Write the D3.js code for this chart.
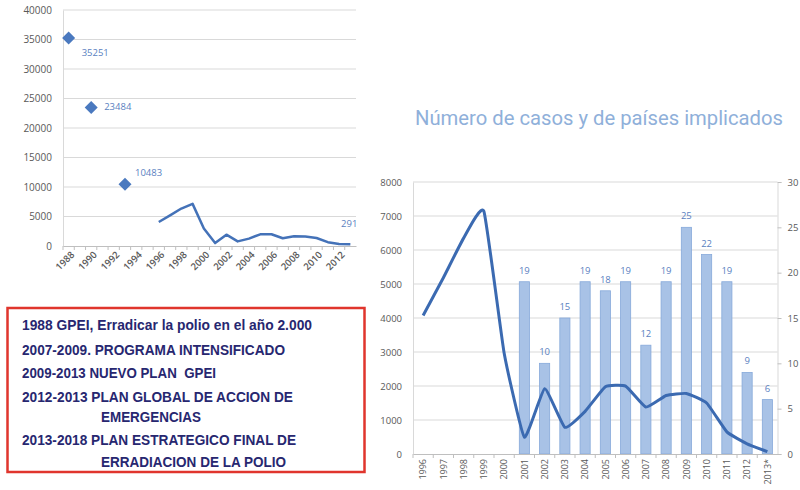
<!DOCTYPE html>
<html><head><meta charset="utf-8">
<script src="https://cdn.jsdelivr.net/npm/d3@7/dist/d3.min.js"></script>
<style>body{margin:0;background:#fff} svg{display:block}</style>
</head><body>
<svg id="c" width="800" height="490"></svg>
<script>
// ---------- DATA ----------
// Left chart (cases of polio, 1988-2013)
const leftYears = ["1988","1989","1990","1991","1992","1993","1994","1995","1996","1997","1998","1999","2000","2001","2002","2003","2004","2005","2006","2007","2008","2009","2010","2011","2012","2013"];
const leftTickLabels = ["1988","1990","1992","1994","1996","1998","2000","2002","2004","2006","2008","2010","2012"];
const leftYTicks = [0,5000,10000,15000,20000,25000,30000,35000,40000];
const earlyYears = ["1988","1990","1993"];
const earlyCases = [35251, 23484, 10483];
const lineYears = ["1996","1997","1998","1999","2000","2001","2002","2003","2004","2005","2006","2007","2008","2009","2010","2011","2012","2013"];
const casesLeft = [4074, 5186, 6349, 7141, 2971, 498, 1918, 784, 1255, 1979, 1997, 1315, 1651, 1604, 1352, 650, 350, 291];

// Right chart (cases and number of countries)
const rightCategories = ["1996","1997","1998","1999","2000","2001","2002","2003","2004","2005","2006","2007","2008","2009","2010","2011","2012","2013*"];
const casesRight = [4074, 5186, 6349, 7141, 2971, 498, 1918, 784, 1255, 1979, 1997, 1380, 1720, 1780, 1500, 650, 300, 70];
const countries = [null, null, null, null, null, 19, 10, 15, 19, 18, 19, 12, 19, 25, 22, 19, 9, 6];
const rightYTicks = [0,1000,2000,3000,4000,5000,6000,7000,8000];
const rightY2Ticks = [0,5,10,15,20,25,30];
const chartTitle = "Número de casos y de países implicados";

const milestones = [
  {text:"1988 GPEI, Erradicar la polio en el año 2.000", indent:false},
  {text:"2007-2009. PROGRAMA INTENSIFICADO", indent:false},
  {text:"2009-2013 NUEVO PLAN  GPEI", indent:false},
  {text:"2012-2013 PLAN GLOBAL DE ACCION DE", indent:false},
  {text:"EMERGENCIAS", indent:true},
  {text:"2013-2018 PLAN ESTRATEGICO FINAL DE", indent:false},
  {text:"ERRADIACION DE LA POLIO", indent:true}
];

// ---------- DRAW ----------
const svg = d3.select("#c");
const FONT = "'Open Sans', 'Liberation Sans', sans-serif";
const GRID = "#d9d9d9", TICKC = "#595959", LINEC = "#4472b8";
const plain = d => String(d);

// ===== Left chart =====
const lx = d3.scaleBand().domain(leftYears).range([63, 356]);
const ly = d3.scaleLinear().domain([0, 40000]).range([246, 10]);
const L = svg.append("g");

L.append("g").selectAll("line").data(leftYTicks.filter(d=>d>0)).join("line")
  .attr("x1", 63).attr("x2", 356).attr("y1", d=>ly(d)).attr("y2", d=>ly(d))
  .attr("stroke", GRID).attr("stroke-width", 1);

const lyAxis = L.append("g").attr("transform","translate(63,0)")
  .call(d3.axisLeft(ly).tickValues(leftYTicks).tickFormat(plain).tickSize(0).tickPadding(11));
lyAxis.select(".domain").attr("stroke", GRID);
lyAxis.selectAll("text").attr("font-family", FONT).attr("font-size", 10).attr("fill", TICKC);

const lxAxis = L.append("g").attr("transform","translate(0,246)")
  .call(d3.axisBottom(lx).tickValues(leftTickLabels).tickSize(0).tickPadding(0));
lxAxis.select(".domain").attr("stroke", "#bfbfbf");
lxAxis.selectAll("text").attr("font-family", FONT).attr("font-size", 9.5).attr("font-weight", 600)
  .attr("fill", TICKC).attr("text-anchor","end")
  .attr("transform","translate(4,7) rotate(-45)").attr("dy","0.35em");
L.append("g").selectAll("line").data(leftYears).join("line")
  .attr("x1", d=>lx(d)).attr("x2", d=>lx(d)).attr("y1", 246).attr("y2", 250)
  .attr("stroke", "#bfbfbf");

const lcx = d => lx(d) + lx.bandwidth()/2;
L.append("path").datum(lineYears.map((y,i)=>[y, casesLeft[i]]))
  .attr("fill","none").attr("stroke", LINEC).attr("stroke-width", 2.5).attr("stroke-linejoin","round")
  .attr("d", d3.line().x(d=>lcx(d[0])).y(d=>ly(d[1])));

L.append("g").selectAll("path").data(earlyYears.map((y,i)=>[y, earlyCases[i]])).join("path")
  .attr("d","M0,-6.5L6.5,0L0,6.5L-6.5,0Z")
  .attr("transform", d=>`translate(${lcx(d[0])},${ly(d[1])})`)
  .attr("fill", "#4a79bf");

const lblOff = [[13, 18], [13, 3], [10, -8]];
L.append("g").selectAll("text").data(earlyYears.map((y,i)=>[y, earlyCases[i]])).join("text")
  .attr("x", (d,i)=>lcx(d[0]) + lblOff[i][0]).attr("y", (d,i)=>ly(d[1]) + lblOff[i][1])
  .attr("font-family", FONT).attr("font-size", 9.5).attr("fill", "#5a7fbf")
  .text(d=>d[1]);
L.append("text").attr("x", lcx(lineYears[lineYears.length-1]) + 7).attr("y", ly(casesLeft[casesLeft.length-1]) - 17)
  .attr("text-anchor","end").attr("font-family", FONT).attr("font-size", 9.5).attr("fill", "#5a7fbf")
  .text(casesLeft[casesLeft.length-1]);

// ===== Milestones box =====
svg.append("rect").attr("x", 7.5).attr("y", 308).attr("width", 357).attr("height", 164)
  .attr("fill","#fff").attr("stroke", "#e0352d").attr("stroke-width", 2.5);
const baselines = [330, 355, 378, 402, 422, 445, 467];
const widths = [290, 263, 194, 271, 100, 274, 185];
svg.append("g").selectAll("text").data(milestones).join("text")
  .attr("x", d=>d.indent ? 101 : 22).attr("y", (d,i)=>baselines[i])
  .attr("font-family", "'Liberation Sans Narrow', 'Arial Narrow', 'Liberation Sans', sans-serif")
  .attr("font-weight", "bold").attr("font-size", 14.5).attr("fill", "#272770")
  .attr("textLength", (d,i)=>widths[i]).attr("lengthAdjust","spacingAndGlyphs")
  .style("white-space","pre")
  .text(d=>d.text);

// ===== Right chart =====
const R = svg.append("g");
R.append("text").attr("x", 415).attr("y", 125)
  .attr("font-family", "Roboto, 'Open Sans', sans-serif").attr("font-size", 20)
  .attr("fill", "#8fb0da").attr("textLength", 368).attr("lengthAdjust","spacingAndGlyphs")
  .text(chartTitle);

const rx = d3.scaleBand().domain(rightCategories).range([413, 777.5]);
const ry = d3.scaleLinear().domain([0, 8000]).range([454, 182]);
const ry2 = d3.scaleLinear().domain([0, 30]).range([454, 182]);

R.append("g").selectAll("line").data(rightYTicks.filter(d=>d>0)).join("line")
  .attr("x1", 413).attr("x2", 777.5).attr("y1", d=>ry(d)).attr("y2", d=>ry(d))
  .attr("stroke", GRID).attr("stroke-width", 1);

const ryAxis = R.append("g").attr("transform","translate(413,0)")
  .call(d3.axisLeft(ry).tickValues(rightYTicks).tickFormat(plain).tickSize(0).tickPadding(11));
ryAxis.select(".domain").attr("stroke", GRID);
ryAxis.selectAll("text").attr("font-family", FONT).attr("font-size", 9.5).attr("fill", TICKC);

const ry2Axis = R.append("g").attr("transform","translate(777.5,0)")
  .call(d3.axisRight(ry2).tickValues(rightY2Ticks).tickFormat(plain).tickSize(4).tickPadding(6));
ry2Axis.select(".domain").attr("stroke", GRID);
ry2Axis.selectAll("line").attr("stroke", "#bfbfbf");
ry2Axis.selectAll("text").attr("font-family", FONT).attr("font-size", 9.5).attr("fill", TICKC);

const rcx = d => rx(d) + rx.bandwidth()/2;
const bw = rx.bandwidth() * 0.5;
const barData = rightCategories.map((c,i)=>[c, countries[i]]).filter(d=>d[1] != null);
R.append("g").selectAll("rect").data(barData).join("rect")
  .attr("x", d=>rcx(d[0]) - bw/2).attr("width", bw)
  .attr("y", d=>ry2(d[1])).attr("height", d=>ry2(0) - ry2(d[1]))
  .attr("fill", "#a8c2e6").attr("stroke", "#86a9da").attr("stroke-width", 0.8);
R.append("g").selectAll("text").data(barData).join("text")
  .attr("x", d=>rcx(d[0])).attr("y", d=>ry2(d[1]) - 8)
  .attr("text-anchor","middle").attr("font-family", FONT).attr("font-size", 9.5).attr("fill", "#5a7fbf")
  .text(d=>d[1]);

const rxAxis = R.append("g").attr("transform","translate(0,454)")
  .call(d3.axisBottom(rx).tickSize(0).tickPadding(0));
rxAxis.select(".domain").attr("stroke", "#bfbfbf");
rxAxis.selectAll("text").attr("font-family", FONT).attr("font-size", 9).attr("fill", TICKC)
  .attr("text-anchor","end").attr("transform","translate(0,5) rotate(-90)").attr("dy","0.35em");
R.append("g").selectAll("line").data(rightCategories).join("line")
  .attr("x1", d=>rx(d)).attr("x2", d=>rx(d)).attr("y1", 454).attr("y2", 458)
  .attr("stroke", "#bfbfbf");

R.append("path").datum(rightCategories.map((c,i)=>[c, casesRight[i]]))
  .attr("fill","none").attr("stroke", "#3b6ab1").attr("stroke-width", 3).attr("stroke-linejoin","round")
  .attr("d", d3.line().x(d=>rcx(d[0])).y(d=>ry(d[1])).curve(d3.curveCardinal.tension(0.6)));
</script>
</body></html>
